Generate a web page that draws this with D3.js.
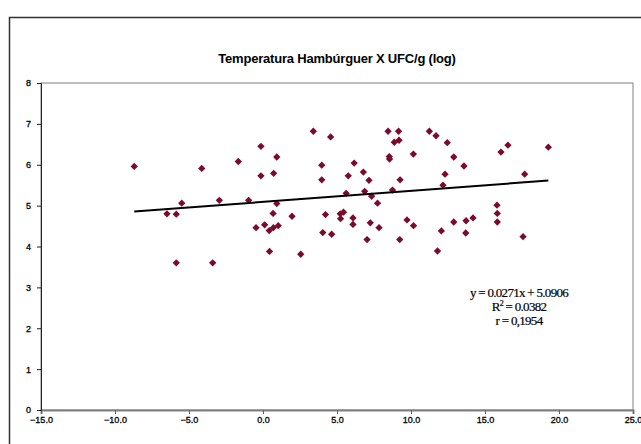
<!DOCTYPE html>
<html>
<head>
<meta charset="utf-8">
<script src="https://cdn.jsdelivr.net/npm/d3@7"></script>
<style>
  body { margin: 0; background: #fff; }
  svg { display: block; font-family: "Liberation Sans", Arial, sans-serif; }
</style>
</head>
<body>
<div id="container"></div>
<script>
// temperatura (x) e UFC/g log (y)
const temps = [
  -8.70, -6.49, -5.86, -5.86, -5.49, -4.14, -3.40, -2.95, -1.67, -0.97,
  -0.47, -0.14, -0.14, 0.11, 0.42, 0.44, 0.70, 0.72, 0.68, 0.93,
  0.93, 1.03, 1.96, 2.55, 3.40, 3.97, 3.97, 4.22, 4.04, 4.57,
  4.64, 5.22, 5.44, 5.24, 5.62, 5.76, 6.16, 6.08, 6.08, 6.78,
  6.87, 7.03, 7.16, 7.25, 7.34, 7.74, 7.84, 8.45, 9.16, 8.87,
  9.19, 8.53, 8.55, 8.75, 9.26, 9.24, 9.73, 10.17, 10.16, 11.24,
  11.69, 11.79, 12.05, 12.16, 12.30, 12.45, 12.89, 12.89, 13.58, 13.70,
  13.72, 14.19, 15.81, 15.83, 15.83, 16.08, 16.55, 17.57, 17.68, 19.28
];
const ufc = [
  5.96, 4.80, 4.79, 3.60, 5.06, 5.91, 3.60, 5.13, 6.08, 5.13,
  4.46, 6.45, 5.73, 4.53, 4.39, 3.88, 4.46, 5.79, 4.81, 6.19,
  5.05, 4.51, 4.74, 3.81, 6.82, 5.99, 5.63, 4.78, 4.34, 6.68,
  4.30, 4.80, 4.84, 4.68, 5.30, 5.73, 6.04, 4.70, 4.54, 5.82,
  5.35, 4.17, 5.62, 4.58, 5.23, 5.06, 4.46, 6.82, 6.82, 6.55,
  6.60, 6.20, 6.14, 5.38, 5.63, 4.17, 4.65, 4.51, 6.26, 6.82,
  6.71, 3.89, 4.38, 5.50, 5.77, 6.54, 6.19, 4.60, 5.97, 4.33,
  4.63, 4.70, 5.01, 4.81, 4.60, 6.31, 6.48, 4.24, 5.77, 6.43
];
const xTicks = [-15, -10, -5, 0, 5, 10, 15, 20, 25];
const yTicks = [0, 1, 2, 3, 4, 5, 6, 7, 8];

// linha de tendencia (Excel)
const slope = 0.0271;
const intercept = 5.0906;
const eqLines = ["y = 0.0271x + 5.0906", "R2 = 0.0382", "r = 0,1954"];

const data = temps.map((t, i) => ({ x: t, y: ufc[i] }));

const W = 641, H = 444;
const margin = { top: 83, right: 8, bottom: 34, left: 41 };
const width = W - margin.left - margin.right;
const height = H - margin.top - margin.bottom;

const svg = d3.select('#container')
  .append('svg')
  .attr('width', W)
  .attr('height', H);

// borda externa do grafico
svg.append('rect')
  .attr('x', 9.5).attr('y', 17.5)
  .attr('width', 700).attr('height', 500)
  .attr('fill', 'none')
  .attr('stroke', '#333')
  .attr('stroke-width', 1.5);

svg.append('text')
  .attr('x', 337).attr('y', 63)
  .attr('text-anchor', 'middle')
  .attr('font-size', 13)
  .attr('font-weight', 'bold')
  .attr('letter-spacing', -0.2)
  .text('Temperatura Hambúrguer X UFC/g (log)');

const g = svg.append('g')
  .attr('transform', `translate(${margin.left}, ${margin.top})`);

const x = d3.scaleLinear().domain([-15, 25]).range([0, width]);
const y = d3.scaleLinear().domain([0, 8]).range([height, 0]);

// moldura da area de plotagem
g.append('rect')
  .attr('x', 0).attr('y', 0)
  .attr('width', width).attr('height', height)
  .attr('fill', 'none')
  .attr('stroke', '#808080')
  .attr('stroke-width', 1);

const xAxis = g.append('g')
  .attr('transform', `translate(0, ${height})`)
  .call(d3.axisBottom(x).tickValues(xTicks).tickFormat(d3.format('.1f')).tickSize(4).tickPadding(3));

const yAxis = g.append('g')
  .call(d3.axisLeft(y).tickValues(yTicks).tickSize(4).tickPadding(6));

xAxis.select('.domain').attr('stroke', '#808080').attr('stroke-width', 2);
yAxis.select('.domain').attr('stroke', '#222');
xAxis.selectAll('.tick line').attr('stroke', '#666');
yAxis.selectAll('.tick line').attr('stroke', '#222');
g.selectAll('.tick text')
  .attr('font-size', 9)
  .attr('font-family', '"Liberation Sans", Arial, sans-serif')
  .attr('fill', '#000')
  .attr('stroke', '#000')
  .attr('stroke-width', 0.3);

// pontos (losangos)
g.selectAll('path.dot')
  .data(data)
  .enter()
  .append('path')
  .attr('class', 'dot')
  .attr('d', d3.symbol(d3.symbolDiamond2, 34))
  .attr('transform', d => `translate(${x(d.x)}, ${y(d.y)})`)
  .attr('fill', '#7b0a2c');

// tendencia
const xExt = d3.extent(temps);
g.append('line')
  .attr('x1', x(xExt[0])).attr('y1', y(slope * xExt[0] + intercept))
  .attr('x2', x(xExt[1])).attr('y2', y(slope * xExt[1] + intercept))
  .attr('stroke', '#000')
  .attr('stroke-width', 2);

// equacao
const eq = svg.append('text')
  .attr('text-anchor', 'middle')
  .attr('font-family', '"Liberation Serif", "Times New Roman", serif')
  .attr('font-size', 13)
  .attr('letter-spacing', -0.7)
  .attr('fill', '#000')
  .attr('stroke', '#000')
  .attr('stroke-width', 0.2);

eqLines.forEach((line, i) => {
  const t = eq.append('tspan').attr('x', 519).attr('y', 297 + i * 14);
  if (line.startsWith('R2')) {
    t.append('tspan').text('R');
    t.append('tspan').attr('font-size', 8).attr('dy', -5).text('2');
    t.append('tspan').attr('dy', 5).text(line.slice(2));
  } else {
    t.text(line);
  }
});
</script>
</body>
</html>
